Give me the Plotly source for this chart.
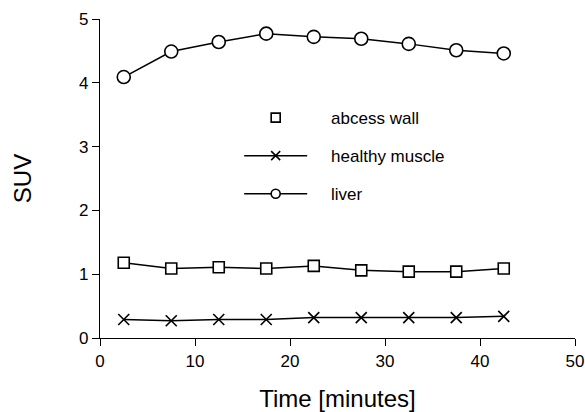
import plotly.graph_objects as go

time_min = [2.5, 7.5, 12.5, 17.5, 22.5, 27.5, 32.5, 37.5, 42.5]
liver = [4.09, 4.49, 4.64, 4.77, 4.72, 4.69, 4.61, 4.51, 4.46]
abcess_wall = [1.18, 1.09, 1.11, 1.09, 1.13, 1.06, 1.04, 1.04, 1.09]
healthy_muscle = [0.29, 0.27, 0.29, 0.29, 0.32, 0.32, 0.32, 0.32, 0.34]

x_ticks = [0, 10, 20, 30, 40, 50]
y_ticks = [0, 1, 2, 3, 4, 5]

FONT = "Liberation Sans, Arial, sans-serif"
fig = go.Figure()

series = [
    ("abcess wall", abcess_wall, "square", 11, "markers"),
    ("healthy muscle", healthy_muscle, "x-thin-open", 11, "lines+markers"),
    ("liver", liver, "circle", 13, "lines+markers"),
]

PAD = "\u00a0" * 4

for name, vals, sym, size, legmode in series:
    fill = "black" if sym == "x-thin-open" else "white"
    marker = dict(symbol=sym, size=size, color=fill, line=dict(color="black", width=1.6))
    fig.add_trace(go.Scatter(x=time_min, y=vals, mode="lines+markers", name=name,
                             line=dict(color="black", width=1.5), marker=marker,
                             showlegend=False, cliponaxis=False))
    leg_marker = dict(marker)
    leg_marker["size"] = 9
    fig.add_trace(go.Scatter(x=[None], y=[None], mode=legmode, name=PAD + name,
                             line=dict(color="black", width=1.5), marker=leg_marker,
                             legendgroup=name, showlegend=True))

fig.update_layout(
    width=585, height=412,
    margin=dict(l=100, r=10, t=19, b=74),
    paper_bgcolor="white", plot_bgcolor="white",
    font=dict(family=FONT, size=17, color="black"),
    legend=dict(x=0.293, y=0.746, xanchor="left", yanchor="top",
                bgcolor="rgba(0,0,0,0)", font=dict(size=17, family=FONT),
                traceorder="grouped", tracegroupgap=13, itemwidth=63),
    xaxis=dict(range=[0, 50], tickvals=x_ticks, showgrid=False, zeroline=False,
               showline=True, linecolor="black", linewidth=1.3, automargin=False,
               ticks="outside", ticklen=7, tickwidth=1.3, tickcolor="black",
               title=dict(text="Time [minutes]", font=dict(size=24, family=FONT), standoff=22)),
    yaxis=dict(range=[0, 5], tickvals=y_ticks, showgrid=False, zeroline=False,
               showline=True, linecolor="black", linewidth=1.3, automargin=False,
               ticks="outside", ticklen=7, tickwidth=1.3, tickcolor="black",
               title=dict(text="SUV", font=dict(size=24, family=FONT), standoff=40)),
)

fig.write_html("out.html", config={"displayModeBar": False},
               post_script="document.body.style.margin='0';document.body.style.overflow='hidden';")
